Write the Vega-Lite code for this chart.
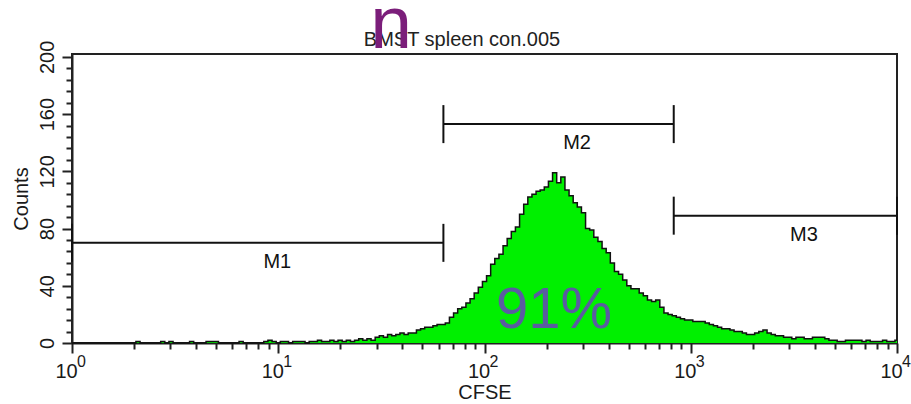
{
"$schema": "https://vega.github.io/schema/vega-lite/v6.json",
"width": 825,
"height": 289,
"autosize": "none",
"padding": {"left": 72, "top": 54, "right": 14, "bottom": 61},
"background": "white",
"config": {"view": {"stroke": "#222", "strokeWidth": 2}, "axis": {"grid": false}},
"datasets": {
"hist": [
{"x":1,"y":0},{"x":1.047,"y":0},{"x":1.096,"y":0},{"x":1.148,"y":0},{"x":1.202,"y":0},{"x":1.259,"y":0},{"x":1.318,"y":0},{"x":1.380,"y":0},{"x":1.445,"y":0},{"x":1.514,"y":0},
{"x":1.585,"y":0},{"x":1.660,"y":0},{"x":1.738,"y":0},{"x":1.820,"y":0},{"x":1.905,"y":0},{"x":1.995,"y":0},{"x":2.089,"y":1},{"x":2.188,"y":0},{"x":2.291,"y":0},{"x":2.399,"y":0},
{"x":2.512,"y":0},{"x":2.630,"y":0},{"x":2.754,"y":1},{"x":2.884,"y":0},{"x":3.020,"y":1},{"x":3.162,"y":0},{"x":3.311,"y":0},{"x":3.467,"y":0},{"x":3.631,"y":0},{"x":3.802,"y":1},
{"x":3.981,"y":0},{"x":4.169,"y":0},{"x":4.365,"y":0},{"x":4.571,"y":1},{"x":4.786,"y":1},{"x":5.012,"y":1},{"x":5.248,"y":0},{"x":5.495,"y":0},{"x":5.754,"y":0},{"x":6.026,"y":0},
{"x":6.310,"y":0},{"x":6.607,"y":1},{"x":6.918,"y":0},{"x":7.244,"y":0},{"x":7.586,"y":0},{"x":7.943,"y":0},{"x":8.318,"y":0},{"x":8.710,"y":1},{"x":9.120,"y":2},{"x":9.550,"y":1},
{"x":10,"y":0},{"x":10.47,"y":1},{"x":10.96,"y":1},{"x":11.48,"y":0},{"x":12.02,"y":1},{"x":12.59,"y":1},{"x":13.18,"y":1},{"x":13.80,"y":0},{"x":14.45,"y":1},{"x":15.14,"y":1},
{"x":15.85,"y":2},{"x":16.60,"y":1},{"x":17.38,"y":1},{"x":18.20,"y":2},{"x":19.05,"y":1},{"x":19.95,"y":2},{"x":20.89,"y":1},{"x":21.88,"y":2},{"x":22.91,"y":1},{"x":23.99,"y":2},
{"x":25.12,"y":3},{"x":26.30,"y":2},{"x":27.54,"y":3},{"x":28.84,"y":2},{"x":30.20,"y":4},{"x":31.62,"y":5},{"x":33.11,"y":4},{"x":34.67,"y":6},{"x":36.31,"y":5},{"x":38.02,"y":6},
{"x":39.81,"y":7},{"x":41.69,"y":6},{"x":43.65,"y":7},{"x":45.71,"y":7},{"x":47.86,"y":9},{"x":50.12,"y":10},{"x":52.48,"y":11},{"x":54.95,"y":11},{"x":57.54,"y":12},{"x":60.26,"y":13},
{"x":63.10,"y":13},{"x":66.07,"y":14},{"x":69.18,"y":18},{"x":72.44,"y":21},{"x":75.86,"y":24},{"x":79.43,"y":25},{"x":83.18,"y":28},{"x":87.10,"y":31},{"x":91.20,"y":35},{"x":95.50,"y":39},
{"x":100,"y":43},{"x":104.7,"y":47},{"x":109.6,"y":55},{"x":114.8,"y":59},{"x":120.2,"y":62},{"x":125.9,"y":68},{"x":131.8,"y":73},{"x":138.0,"y":78},{"x":144.5,"y":81},{"x":151.4,"y":90},
{"x":158.5,"y":97},{"x":166.0,"y":102},{"x":173.8,"y":104},{"x":182.0,"y":106},{"x":190.5,"y":107},{"x":199.5,"y":109},{"x":208.9,"y":113},{"x":218.8,"y":119},{"x":229.1,"y":112},{"x":239.9,"y":116},
{"x":251.2,"y":107},{"x":263.0,"y":103},{"x":275.4,"y":98},{"x":288.4,"y":95},{"x":302.0,"y":91},{"x":316.2,"y":80},{"x":331.1,"y":79},{"x":346.7,"y":74},{"x":363.1,"y":71},{"x":380.2,"y":66},
{"x":398.1,"y":63},{"x":416.9,"y":56},{"x":436.5,"y":50},{"x":457.1,"y":48},{"x":478.6,"y":44},{"x":501.2,"y":40},{"x":524.8,"y":38},{"x":549.5,"y":38},{"x":575.4,"y":35},{"x":602.6,"y":33},
{"x":631.0,"y":30},{"x":660.7,"y":29},{"x":691.8,"y":30},{"x":724.4,"y":25},{"x":758.6,"y":21},{"x":794.3,"y":20},{"x":831.8,"y":19},{"x":871.0,"y":18},{"x":912.0,"y":17},{"x":955.0,"y":16},
{"x":1000,"y":16},{"x":1047,"y":15},{"x":1096,"y":15},{"x":1148,"y":15},{"x":1202,"y":14},{"x":1259,"y":13},{"x":1318,"y":12},{"x":1380,"y":11},{"x":1445,"y":10},{"x":1514,"y":10},
{"x":1585,"y":9},{"x":1660,"y":8},{"x":1738,"y":8},{"x":1820,"y":7},{"x":1905,"y":6},{"x":1995,"y":6},{"x":2089,"y":7},{"x":2188,"y":8},{"x":2291,"y":9},{"x":2399,"y":7},
{"x":2512,"y":6},{"x":2630,"y":5},{"x":2754,"y":5},{"x":2884,"y":4},{"x":3020,"y":4},{"x":3162,"y":3},{"x":3311,"y":4},{"x":3467,"y":4},{"x":3631,"y":3},{"x":3802,"y":3},
{"x":3981,"y":4},{"x":4169,"y":4},{"x":4365,"y":4},{"x":4571,"y":3},{"x":4786,"y":2},{"x":5012,"y":2},{"x":5248,"y":1},{"x":5495,"y":1},{"x":5754,"y":2},{"x":6026,"y":2},
{"x":6310,"y":2},{"x":6607,"y":2},{"x":6918,"y":1},{"x":7244,"y":2},{"x":7586,"y":1},{"x":7943,"y":1},{"x":8318,"y":1},{"x":8710,"y":2},{"x":9120,"y":1},{"x":9550,"y":1},
{"x":10000,"y":2}
],
"gates": [
{"m":"M1","x1":1,"x2":63.2,"y":70,"lx":9.9},
{"m":"M2","x1":63.2,"x2":827,"y":153,"lx":281},
{"m":"M3","x1":827,"x2":10000,"y":89,"lx":3539}
],
"exps": [
{"x":1,"e":"0"},{"x":10,"e":"1"},{"x":100,"e":"2"},{"x":1000,"e":"3"},{"x":10000,"e":"4"}
]
},
"layer": [
{
"data": {"name": "hist"},
"mark": {"type": "area", "interpolate": "step", "color": "#00f000"},
"encoding": {
"x": {"field": "x", "type": "quantitative", "scale": {"type": "log", "domain": [1, 10000]},
"axis": {"values": [1, 10, 100, 1000, 10000], "labelExpr": "'10'", "title": "CFSE", "orient": "bottom", "grid": false,
"tickSize": 10, "tickWidth": 2, "tickColor": "#222", "domainColor": "#222", "domainWidth": 2,
"labelFont": "Liberation Sans", "labelFontSize": 20, "labelColor": "#1a1a1a", "labelPadding": 8, "labelOffset": -6,
"labelFlush": false, "labelOverlap": false, "labelAlign": "center", "labelBaseline": "top",
"titleFont": "Liberation Sans", "titleFontSize": 20, "titleFontWeight": "normal", "titleColor": "#1a1a1a", "titlePadding": 1}},
"y": {"field": "y", "type": "quantitative", "scale": {"domain": [0, 202], "nice": false},
"axis": {"values": [0, 40, 80, 120, 160, 200], "title": "Counts", "orient": "left", "grid": false,
"tickSize": 10, "tickWidth": 2, "tickColor": "#222", "domainColor": "#222", "domainWidth": 2,
"labelFont": "Liberation Sans", "labelFontSize": 20, "labelColor": "#1a1a1a", "labelAngle": -90, "labelAlign": "center", "labelBaseline": "alphabetic",
"labelPadding": 9, "labelFlush": false, "labelOverlap": false,
"titleFont": "Liberation Sans", "titleFontSize": 20, "titleFontWeight": "normal", "titleColor": "#1a1a1a", "titlePadding": 6}}
}
},
{
"data": {"name": "hist"},
"mark": {"type": "line", "interpolate": "step", "color": "#111", "strokeWidth": 1.5},
"encoding": {
"x": {"field": "x", "type": "quantitative", "scale": {"type": "log", "domain": [1, 10000]},
"axis": {"values": [2,3,4,5,6,7,8,9,20,30,40,50,60,70,80,90,200,300,400,500,600,700,800,900,2000,3000,4000,5000,6000,7000,8000,9000],
"labels": false, "title": null, "domain": false, "orient": "bottom", "grid": false, "tickSize": 6, "tickWidth": 2, "tickColor": "#222"}},
"y": {"field": "y", "type": "quantitative", "scale": {"domain": [0, 202], "nice": false},
"axis": {"values": [8,16,24,32,48,56,64,72,88,96,104,112,128,136,144,152,168,176,184,192],
"labels": false, "title": null, "domain": false, "orient": "left", "grid": false, "tickSize": 6, "tickWidth": 2, "tickColor": "#222"}}
}
},
{
"data": {"name": "gates"},
"mark": {"type": "rule", "color": "#111", "strokeWidth": 2},
"encoding": {
"x": {"field": "x1", "type": "quantitative", "scale": {"type": "log", "domain": [1, 10000]}, "axis": null},
"x2": {"field": "x2"},
"y": {"field": "y", "type": "quantitative", "scale": {"domain": [0, 202], "nice": false}, "axis": null}
}
},
{
"data": {"name": "gates"},
"mark": {"type": "tick", "orient": "vertical", "color": "#111", "thickness": 2, "size": 38, "opacity": 1},
"encoding": {
"x": {"field": "x1", "type": "quantitative", "scale": {"type": "log", "domain": [1, 10000]}, "axis": null},
"y": {"field": "y", "type": "quantitative", "scale": {"domain": [0, 202], "nice": false}, "axis": null}
}
},
{
"data": {"name": "gates"},
"mark": {"type": "tick", "orient": "vertical", "color": "#111", "thickness": 2, "size": 38, "opacity": 1},
"encoding": {
"x": {"field": "x2", "type": "quantitative", "scale": {"type": "log", "domain": [1, 10000]}, "axis": null},
"y": {"field": "y", "type": "quantitative", "scale": {"domain": [0, 202], "nice": false}, "axis": null}
}
},
{
"data": {"name": "gates"},
"mark": {"type": "text", "font": "Liberation Sans", "fontSize": 20, "color": "#111", "align": "center", "baseline": "alphabetic", "dy": 25},
"encoding": {
"x": {"field": "lx", "type": "quantitative", "scale": {"type": "log", "domain": [1, 10000]}, "axis": null},
"y": {"field": "y", "type": "quantitative", "scale": {"domain": [0, 202], "nice": false}, "axis": null},
"text": {"field": "m"}
}
},
{
"data": {"name": "exps"},
"mark": {"type": "text", "font": "Liberation Sans", "fontSize": 16, "color": "#1a1a1a", "align": "left", "baseline": "alphabetic", "dx": 5, "dy": 24},
"encoding": {
"x": {"field": "x", "type": "quantitative", "scale": {"type": "log", "domain": [1, 10000]}, "axis": null},
"y": {"datum": 0, "type": "quantitative", "scale": {"domain": [0, 202], "nice": false}, "axis": null},
"text": {"field": "e"}
}
},
{
"data": {"values": [{"x": 217.5, "y": 10.5, "t": "91%"}]},
"mark": {"type": "text", "font": "Liberation Sans", "fontSize": 58, "color": "#5a5ca0", "align": "center", "baseline": "alphabetic"},
"encoding": {
"x": {"field": "x", "type": "quantitative", "scale": {"type": "log", "domain": [1, 10000]}, "axis": null},
"y": {"field": "y", "type": "quantitative", "scale": {"domain": [0, 202], "nice": false}, "axis": null},
"text": {"field": "t"}
}
},
{
"data": {"values": [{"x": 77.8, "y": 207.9, "t": "BMST spleen con.005"}]},
"mark": {"type": "text", "font": "Liberation Sans", "fontSize": 20, "color": "#222", "align": "center", "baseline": "alphabetic"},
"encoding": {
"x": {"field": "x", "type": "quantitative", "scale": {"type": "log", "domain": [1, 10000]}, "axis": null},
"y": {"field": "y", "type": "quantitative", "scale": {"domain": [0, 202], "nice": false}, "axis": null},
"text": {"field": "t"}
}
},
{
"data": {"values": [{"x": 35.3, "y": 206.1, "t": "n"}]},
"mark": {"type": "text", "font": "Liberation Sans", "fontSize": 75, "color": "#7b1e7a", "align": "center", "baseline": "alphabetic"},
"encoding": {
"x": {"field": "x", "type": "quantitative", "scale": {"type": "log", "domain": [1, 10000]}, "axis": null},
"y": {"field": "y", "type": "quantitative", "scale": {"domain": [0, 202], "nice": false}, "axis": null},
"text": {"field": "t"}
}
}
],
"resolve": {"axis": {"x": "independent", "y": "independent"}}
}
